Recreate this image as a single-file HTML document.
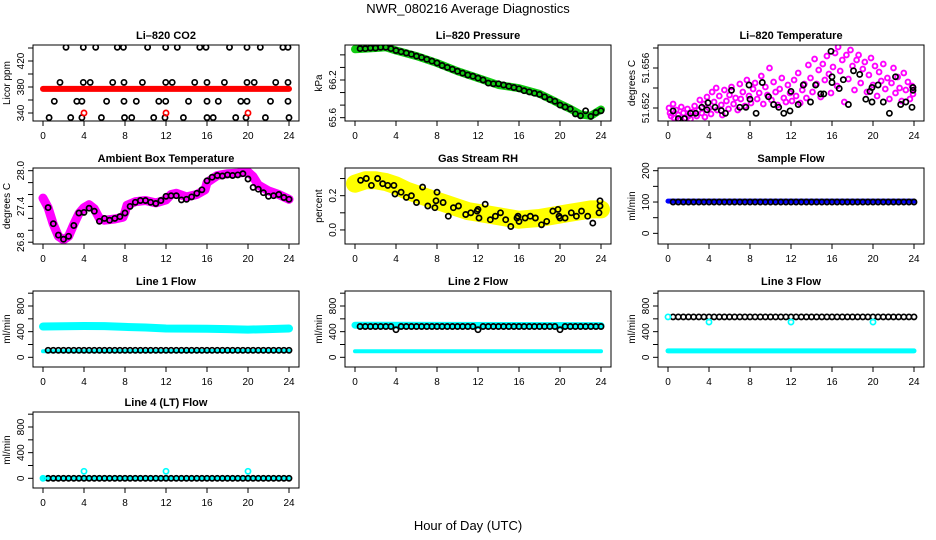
<!DOCTYPE html>
<html><head><meta charset="utf-8">
<style>
html,body{margin:0;padding:0;background:#fff;}
svg{display:block;font-family:"Liberation Sans",Arial,sans-serif;}
</style></head>
<body>
<svg id="chart" width="936" height="540" viewBox="0 0 936 540">
<text x="468" y="13" text-anchor="middle" font-size="13">NWR_080216  Average Diagnostics</text>
<text x="468" y="530" text-anchor="middle" font-size="13">Hour of Day (UTC)</text>
</svg>
<script>
const xTicks=[0,4,8,12,16,20,24];
const halfHours=[0.5,1,1.5,2,2.5,3,3.5,4,4.5,5,5.5,6,6.5,7,7.5,8,8.5,9,9.5,10,10.5,11,11.5,12,12.5,13,13.5,14,14.5,15,15.5,16,16.5,17,17.5,18,18.5,19,19.5,20,20.5,21,21.5,22,22.5,23,23.5,24];
// CO2
const co2Hours=[2.24,3.93,5.14,7.25,7.84,10.2,11.97,13.1,15.3,15.9,18.2,19.9,21.2,23.4,23.9, 1.66,3.93,4.6,6.8,7.9,9.7,11.97,12.6,14.8,16.0,17.7,19.9,20.6,22.7,23.9, 1.1,3.3,3.8,6.2,7.9,9.1,11.3,11.97,14.2,16.0,17.1,19.3,19.9,22.2,23.9, 0.6,2.7,3.8,5.7,7.95,8.65,10.8,11.9,13.7,16.0,16.6,18.8,19.8,21.7,24.0];
const co2Values=[441,441,441,441,441,441,441,441,441,441,441,441,441,441,441, 387,387,387,387,387,387,387,387,387,387,387,387,387,387,387, 358,358,358,358,358,358,358,358,358,358,358,358,358,358,358, 333,333,333,333,333,333,333,333,333,333,333,333,333,333,333];
const co2RedHours=[0,24];
const co2RedValues=[377,377];
const co2RedPtHours=[4,12,20];
const co2RedPtValues=[340,340,340];
// Pressure
const presLineHours=[0,1,2,3,4,6,8,10,12,14,16,18,19,20,21,22,23,24];
const presLineValues=[66.69,66.70,66.71,66.72,66.67,66.58,66.47,66.34,66.23,66.12,66.07,65.98,65.90,65.82,65.74,65.65,65.63,65.73];
const presBlack=[66.70,66.70,66.71,66.71,66.72,66.72,66.70,66.67,66.65,66.63,66.61,66.58,66.56,66.53,66.50,66.47,66.43,66.40,66.37,66.34,66.31,66.28,66.26,66.23,66.20,66.15,66.14,66.14,66.12,66.10,66.08,66.06,66.03,66.01,65.99,65.97,65.93,65.89,65.86,65.80,65.77,65.74,65.66,65.63,65.71,65.62,65.68,65.71];
// Li-820 temperature (51.65 + thousandths)
const tBlackHours=[0.5,1,1.6,2.2,2.7,3.3,3.8,3.9,4.6,5.2,5.6,6.2,7.0,7.6,7.9,8.0,8.6,9.2,9.8,10.3,10.8,11.3,11.9,12.0,12.7,13.2,13.9,14.4,14.9,15.2,15.9,16.0,16.0,16.7,17.1,17.6,18.1,18.7,19.3,19.7,19.9,19.9,20.5,21.0,21.6,22.2,22.7,23.2,23.8,23.9,23.9];
const tBlackMilli=[1.71,0.94,0.94,1.47,1.47,2.07,1.82,2.53,2.07,1.74,1.47,3.77,2.07,2.07,4.30,2.88,1.47,4.55,3.13,2.35,2.07,1.47,1.71,3.66,2.35,4.30,2.60,4.30,3.41,3.41,7.67,5.12,4.55,3.95,4.83,2.35,5.72,5.36,2.88,3.66,2.60,4.05,4.30,2.60,1.47,5.12,2.35,2.60,2.07,4.05,3.77];
const tMagHours=[0.1,0.2,0.3,0.5,0.6,0.8,1.0,1.2,1.3,1.5,1.7,1.9,2.0,2.2,2.4,2.6,2.8,3.0,3.1,3.3,3.5,3.6,3.8,4.0,4.2,4.3,4.5,4.7,4.8,5.0,5.2,5.3,5.5,5.7,5.9,6.0,6.2,6.4,6.6,6.8,7.0,7.1,7.3,7.5,7.7,7.9,8.1,8.3,8.5,8.7,8.9,9.1,9.3,9.5,9.7,9.9,10.1,10.3,10.5,10.7,10.9,11.1,11.3,11.5,11.7,11.9,12.1,12.3,12.5,12.7,12.9,13.1,13.3,13.5,13.7,13.9,14.1,14.3,14.5,14.7,14.9,15.1,15.3,15.5,15.7,15.9,16.1,16.3,16.5,16.6,16.8,17.0,17.2,17.4,17.6,17.8,18.0,18.2,18.4,18.6,18.8,19.0,19.2,19.4,19.6,19.8,20.0,20.2,20.4,20.6,20.8,21.0,21.2,21.4,21.6,21.8,22.0,22.2,22.4,22.6,22.8,23.0,23.2,23.4,23.6,23.8,23.9];
const tMagMilli=[2.0,1.5,1.2,2.4,1.0,1.8,1.3,0.8,2.1,1.5,1.0,1.9,1.2,0.9,1.6,2.2,1.2,1.8,2.8,1.5,2.4,1.1,3.1,2.0,1.4,3.6,2.6,4.0,1.8,3.2,2.3,1.3,3.8,2.7,1.9,3.3,4.1,2.4,3.0,1.8,4.4,2.9,3.6,2.2,4.8,3.2,2.5,3.9,4.5,2.9,3.5,5.2,2.4,4.1,3.3,6.0,2.8,4.6,3.6,2.3,3.9,5.0,3.0,2.6,4.3,3.5,2.7,4.8,3.2,5.5,2.5,3.8,4.4,3.0,6.3,5.0,3.6,6.9,4.4,5.8,3.1,6.4,4.8,7.2,5.4,3.5,6.1,7.5,4.2,8.1,5.7,6.8,2.6,7.3,4.9,7.8,6.2,3.8,6.8,7.3,4.5,5.9,6.6,3.6,5.3,7.0,4.3,6.2,3.2,5.6,4.7,6.4,3.9,5.0,2.9,4.5,6.0,3.5,5.1,4.0,2.7,5.5,3.8,4.6,2.9,4.2,3.4];
// Ambient box temperature
const ambLineHours=[0,0.5,1,1.5,2,2.5,3,3.5,4,4.5,5,5.5,6,7,7.8,8,8.2,9,10,11,12,12.5,13,14,15,15.8,16,17,18,19,20,20.5,21,22,23,24];
const ambLineValues=[27.54,27.38,27.1,26.9,26.84,26.9,27.1,27.28,27.38,27.43,27.36,27.2,27.17,27.19,27.22,27.3,27.42,27.48,27.5,27.46,27.51,27.6,27.62,27.56,27.6,27.68,27.8,27.92,27.95,27.96,27.98,27.9,27.76,27.66,27.6,27.52];
const ambBlack=[27.38,27.11,26.92,26.85,26.90,27.08,27.29,27.30,27.37,27.32,27.15,27.20,27.17,27.20,27.23,27.29,27.40,27.47,27.50,27.50,27.47,27.45,27.50,27.57,27.58,27.58,27.51,27.52,27.56,27.62,27.68,27.83,27.89,27.92,27.91,27.93,27.92,27.93,27.95,27.86,27.72,27.69,27.63,27.57,27.58,27.60,27.55,27.52];
// Gas stream RH
const rhLineHours=[0,1,2,3,4,5,6,7,8,9,10,11,12,13,14,15,16,17,18,19,20,21,22,23,24];
const rhLineValues=[0.27,0.29,0.29,0.28,0.26,0.23,0.21,0.19,0.17,0.15,0.13,0.11,0.10,0.09,0.08,0.07,0.06,0.065,0.07,0.08,0.09,0.10,0.11,0.12,0.12];
const rhBlackHours=[0.55,1.1,1.6,2.2,2.7,3.2,3.8,3.9,4.5,5.0,5.5,6.0,6.6,7.1,7.8,7.9,8.0,8.6,9.1,9.6,10.1,10.8,11.3,11.9,12.0,12.1,12.7,13.2,13.7,14.2,14.7,15.2,15.8,15.9,16.0,16.6,17.1,17.6,18.2,18.7,19.3,19.8,19.9,20.0,20.5,21.1,21.6,22.1,22.7,23.2,23.8,23.9,23.9];
const rhBlackValues=[0.29,0.30,0.26,0.30,0.27,0.26,0.26,0.21,0.22,0.19,0.20,0.16,0.25,0.14,0.13,0.17,0.22,0.16,0.08,0.13,0.14,0.09,0.10,0.11,0.12,0.07,0.15,0.06,0.08,0.10,0.06,0.02,0.07,0.08,0.05,0.07,0.08,0.07,0.03,0.05,0.11,0.12,0.08,0.07,0.07,0.10,0.08,0.11,0.08,0.04,0.10,0.14,0.17];
// Sample flow
const sampleLineHours=[0,24];
const sampleLineValues=[103,103];
const sampleBlack=[100,100,100,100,100,100,100,100,100,100,100,100,100,100,100,100,100,100,100,100,100,100,100,100,100,100,100,100,100,100,100,100,100,100,100,100,100,100,100,100,100,100,100,100,100,100,100,100];
// Line flows
const l1HighHours=[0,2,4,6,8,10,12,14,16,18,20,22,24];
const l1HighValues=[480,485,488,486,475,465,450,448,445,440,432,440,450];
const l1LowHours=[0,24];
const l1LowValues=[95,100];
const l1Black=[110,110,110,110,110,110,110,110,110,110,110,110,110,110,110,110,110,110,110,110,110,110,110,110,110,110,110,110,110,110,110,110,110,110,110,110,110,110,110,110,110,110,110,110,110,110,110,110];
const l2HighHours=[0,24];
const l2HighValues=[500,495];
const l2LowHours=[0,24];
const l2LowValues=[95,95];
const l2Black=[480,480,480,480,480,480,480,430,480,480,480,480,480,480,480,480,480,480,480,480,480,480,480,430,480,480,480,480,480,480,480,480,480,480,480,480,480,480,480,430,480,480,480,480,480,480,480,480];
const l3LowHours=[0,24];
const l3LowValues=[100,100];
const l3Black=[630,630,630,630,630,630,630,630,630,630,630,630,630,630,630,630,630,630,630,630,630,630,630,630,630,630,630,630,630,630,630,630,630,630,630,630,630,630,630,630,630,630,630,630,630,630,630,630];
const l3CyanHours=[0,4,12,20];
const l3CyanValues=[630,550,550,550];
const l4LowHours=[0,24];
const l4LowValues=[5,5];
const l4Black=[0,0,0,0,0,0,0,0,0,0,0,0,0,0,0,0,0,0,0,0,0,0,0,0,0,0,0,0,0,0,0,0,0,0,0,0,0,0,0,0,0,0,0,0,0,0,0,0];
const l4CyanHours=[0,4,12,20];
const l4CyanValues=[0,110,110,110];

const NS='http://www.w3.org/2000/svg';
const svg=document.getElementById('chart');
function mk(tag,attrs,parent){const e=document.createElementNS(NS,tag);for(const k in attrs)e.setAttribute(k,attrs[k]);(parent||svg).appendChild(e);return e;}

const colLeft=[33,345,658], rowTop=[45,168,291,412], BW=266, BH=76;

function panel(cfg){
  const L=colLeft[cfg.col], T=rowTop[cfg.row], B=T+BH;
  const g=mk('g',{});
  
  
  const xs=h=>L+10+h*(246/24);
  const ys=v=>B-(v-cfg.ymin)/(cfg.ymax-cfg.ymin)*BH;
  const clipId='clip-'+cfg.name;
  const cp=mk('clipPath',{id:clipId},g);
  mk('rect',{x:L,y:T,width:BW,height:BH},cp);
  const plot=mk('g',{'clip-path':'url(#'+clipId+')'},g);
  
  
  (cfg.series||[]).forEach(s=>{
    if(s.type==='band'){
      const pts=s.h.map((h,i)=>xs(h).toFixed(1)+','+ys(s.v[i]).toFixed(1)).join(' ');
      const pl=mk('polyline',{points:pts,fill:'none',stroke:s.color,'stroke-width':s.width,'stroke-linejoin':'round','stroke-linecap':'round'},plot);
      
      
    } else {
      const sg=mk('g',{},plot);
      
      
      s.h.forEach((h,i)=>{
        const c=mk('circle',{cx:xs(h).toFixed(1),cy:ys(s.v[i]).toFixed(1),r:s.r||2.6,fill:'none',stroke:s.color,'stroke-width':s.sw||1.7},sg);
        
        
      });
    }
  });
  const box=mk('rect',{x:L,y:T,width:BW,height:BH,fill:'none',stroke:'#000','stroke-width':1},g);
  
  
  const xa=mk('g',{},g);
  
  
  xTicks.forEach(t=>{
    mk('line',{x1:xs(t),x2:xs(t),y1:B,y2:B+5,stroke:'#000'},xa);
    const tx=mk('text',{x:xs(t),y:B+18,'text-anchor':'middle','font-size':10},xa);
    tx.textContent=t;
    
    
  });
  const ya=mk('g',{},g);
  
  
  cfg.yticks.forEach(t=>{
    const y=ys(t); if(y<T-0.5||y>B+0.5)return;
    mk('line',{x1:L,x2:L-5,y1:y,y2:y,stroke:'#000'},ya);
  });
  cfg.ylabels.forEach((lab,i)=>{
    const y=ys(cfg.ylabelVals[i]);
    const tx=mk('text',{x:L-9,y:y,'text-anchor':'middle','font-size':10,transform:'rotate(-90 '+(L-9)+' '+y+')'},ya);
    tx.textContent=lab;
    
    
  });
  const yt=mk('text',{x:L-23,y:(T+B)/2,'text-anchor':'middle','font-size':10,transform:'rotate(-90 '+(L-23)+' '+((T+B)/2)+')'},g);
  yt.textContent=cfg.ytitle;
  
  
  const tt=mk('text',{x:L+BW/2,y:T-6,'text-anchor':'middle','font-size':11,'font-weight':'bold'},g);
  tt.textContent=cfg.title;
  
  
}
const flowTicks=[0,200,400,600,800,1000];
panel({name:'co2',title:'Li\u2013820 CO2',ytitle:'Licor ppm',col:0,row:0,ymin:327.7,ymax:444.6,yticks:[340,360,380,400,420,440],ylabels:['340','380','420'],ylabelVals:[340,380,420],
  series:[{type:'band',name:'co2-red-band',h:co2RedHours,v:co2RedValues,color:'#ff0000',width:6},
          {type:'pts',name:'co2-black',h:co2Hours,v:co2Values,color:'#000'},
          {type:'pts',name:'co2-red',h:co2RedPtHours,v:co2RedPtValues,color:'#ff0000'}]});
panel({name:'pressure',title:'Li\u2013820 Pressure',ytitle:'kPa',col:1,row:0,ymin:65.547,ymax:66.757,yticks:[65.6,65.8,66.0,66.2,66.4,66.6],ylabels:['65.6','66.2'],ylabelVals:[65.6,66.2],
  series:[{type:'band',name:'pressure-green-band',h:presLineHours,v:presLineValues,color:'#11cc11',width:8},
          {type:'pts',name:'pressure-black',h:halfHours,v:presBlack,color:'#000'}]});
panel({name:'licor-temp',title:'Li\u2013820 Temperature',ytitle:'degrees C',col:2,row:0,ymin:51.6507,ymax:51.6583,yticks:[51.652,51.654,51.656,51.658],ylabels:['51.652','51.656'],ylabelVals:[51.652,51.656],
  series:[{type:'pts',name:'licor-temp-magenta',h:tMagHours,v:tMagMilli.map(m=>51.65+m/1000),color:'#ff00ff',r:2.4,sw:1.9},
          {type:'pts',name:'licor-temp-black',h:tBlackHours,v:tBlackMilli.map(m=>51.65+m/1000),color:'#000'}]});
panel({name:'ambient',title:'Ambient Box Temperature',ytitle:'degrees C',col:0,row:1,ymin:26.77,ymax:28.045,yticks:[26.8,27.0,27.2,27.4,27.6,27.8,28.0],ylabels:['26.8','27.4','28.0'],ylabelVals:[26.8,27.4,28.0],
  series:[{type:'band',name:'ambient-magenta-band',h:ambLineHours,v:ambLineValues,color:'#ff00ff',width:9},
          {type:'pts',name:'ambient-black',h:halfHours,v:ambBlack,color:'#000'}]});
panel({name:'rh',title:'Gas Stream RH',ytitle:'percent',col:1,row:1,ymin:-0.082,ymax:0.3615,yticks:[0,0.1,0.2,0.3],ylabels:['0.0','0.2'],ylabelVals:[0,0.2],
  series:[{type:'band',name:'rh-yellow-band',h:rhLineHours,v:rhLineValues,color:'#ffff00',width:18},
          {type:'pts',name:'rh-black',h:rhBlackHours,v:rhBlackValues,color:'#000'}]});
panel({name:'sample-flow',title:'Sample Flow',ytitle:'ml/min',col:2,row:1,ymin:-34,ymax:208.6,yticks:[0,50,100,150,200],ylabels:['0','100','200'],ylabelVals:[0,100,200],
  series:[{type:'band',name:'sample-blue-band',h:sampleLineHours,v:sampleLineValues,color:'#0000ff',width:5},
          {type:'pts',name:'sample-black',h:halfHours,v:sampleBlack,color:'#000'}]});
panel({name:'line1',title:'Line 1 Flow',ytitle:'ml/min',col:0,row:2,ymin:-151,ymax:1034,yticks:flowTicks,ylabels:['0','400','800'],ylabelVals:[0,400,800],
  series:[{type:'band',name:'line1-cyan-high',h:l1HighHours,v:l1HighValues,color:'#00ffff',width:8},
          {type:'band',name:'line1-cyan-low',h:l1LowHours,v:l1LowValues,color:'#00ffff',width:4},
          {type:'pts',name:'line1-black',h:halfHours,v:l1Black,color:'#000'}]});
panel({name:'line2',title:'Line 2 Flow',ytitle:'ml/min',col:1,row:2,ymin:-151,ymax:1034,yticks:flowTicks,ylabels:['0','400','800'],ylabelVals:[0,400,800],
  series:[{type:'band',name:'line2-cyan-high',h:l2HighHours,v:l2HighValues,color:'#00ffff',width:7},
          {type:'band',name:'line2-cyan-low',h:l2LowHours,v:l2LowValues,color:'#00ffff',width:4},
          {type:'pts',name:'line2-black',h:halfHours,v:l2Black,color:'#000'}]});
panel({name:'line3',title:'Line 3 Flow',ytitle:'ml/min',col:2,row:2,ymin:-151,ymax:1034,yticks:flowTicks,ylabels:['0','400','800'],ylabelVals:[0,400,800],
  series:[{type:'band',name:'line3-cyan-low',h:l3LowHours,v:l3LowValues,color:'#00ffff',width:5},
          {type:'pts',name:'line3-black',h:halfHours,v:l3Black,color:'#000'},
          {type:'pts',name:'line3-cyan',h:l3CyanHours,v:l3CyanValues,color:'#00ffff'}]});
panel({name:'line4',title:'Line 4 (LT) Flow',ytitle:'ml/min',col:0,row:3,ymin:-151,ymax:1034,yticks:flowTicks,ylabels:['0','400','800'],ylabelVals:[0,400,800],
  series:[{type:'band',name:'line4-cyan-low',h:l4LowHours,v:l4LowValues,color:'#00ffff',width:4},
          {type:'pts',name:'line4-black',h:halfHours,v:l4Black,color:'#000'},
          {type:'pts',name:'line4-cyan',h:l4CyanHours,v:l4CyanValues,color:'#00ffff'}]});
</script>
</body></html>
